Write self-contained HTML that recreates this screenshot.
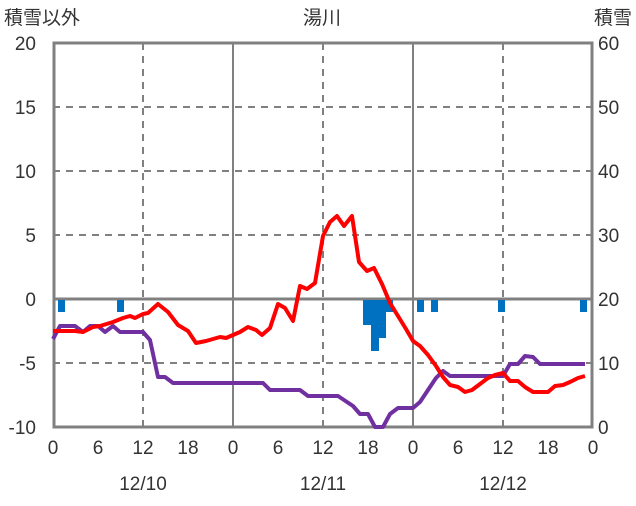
<!DOCTYPE html><html><head><style>body{margin:0;background:#fff}svg text{font-family:"Liberation Sans","Noto Sans CJK JP",sans-serif;font-size:19px;fill:#333}</style></head><body>
<svg width="636" height="501" xmlns="http://www.w3.org/2000/svg">
<g stroke="#808080" stroke-width="2" stroke-dasharray="7,6">
<line x1="53" y1="107" x2="593" y2="107"/><line x1="53" y1="171" x2="593" y2="171"/><line x1="53" y1="235" x2="593" y2="235"/><line x1="53" y1="363" x2="593" y2="363"/>
<line x1="143" y1="43" x2="143" y2="427"/><line x1="323" y1="43" x2="323" y2="427"/><line x1="503" y1="43" x2="503" y2="427"/>
</g>
<g stroke="#808080" stroke-width="2"><line x1="233" y1="43" x2="233" y2="427"/><line x1="413" y1="43" x2="413" y2="427"/></g>
<line x1="53" y1="299" x2="593" y2="299" stroke="#808080" stroke-width="3"/>
<rect x="54" y="43" width="538" height="384" fill="none" stroke="#808080" stroke-width="3"/>
<g fill="#0070c0">
<rect x="58" y="300" width="7" height="12"/><rect x="117" y="300" width="7" height="12"/>
<rect x="363" y="300" width="8" height="25"/><rect x="371" y="300" width="8" height="51"/><rect x="379" y="300" width="7" height="38"/><rect x="386" y="300" width="7" height="12"/>
<rect x="417" y="300" width="7" height="12"/><rect x="431" y="300" width="7" height="12"/><rect x="498" y="300" width="7" height="12"/><rect x="580" y="300" width="7" height="12"/>
</g>
<polyline fill="none" stroke="#7030a0" stroke-width="4" stroke-linejoin="round" points="53,339 60,326 75,326 83,332 90,326 98,326 105,332 113,326 120,332 143,332 150,340 158,377 165,377 173,383 263,383 270,390 300,390 308,396 338,396 353,406 360,414 368,414 375,427 383,427 390,414 398,408 413,408 420,402 428,390 436,378 443,371 450,376 503,376 510,364 518,364 525,356 533,357 540,364 585,364"/>
<polyline fill="none" stroke="#ff0000" stroke-width="4" stroke-linejoin="round" points="53,331 75,331 83,332 93,327 100,326 113,322 123,318 130,316 135,318 143,314 148,313 158,304 168,312 178,325 188,331 196,343 206,341 213,339 220,337 226,338 233,335 240,332 248,327 256,330 262,335 270,328 278,304 285,308 293,321 300,286 307,289 315,283 323,236 330,222 337,216 344,226 352,216 359,262 367,271 374,268 382,284 390,303 398,316 406,329 413,341 420,346 428,355 436,366 443,377 450,385 458,387 465,392 472,390 480,384 488,378 495,375 503,373 510,381 518,381 525,387 533,392 548,392 555,386 563,385 570,382 578,378 585,376"/>
<g text-anchor="end"><text x="36" y="50">20</text><text x="36" y="114">15</text><text x="36" y="178">10</text><text x="36" y="242">5</text><text x="36" y="306">0</text><text x="36" y="370">-5</text><text x="36" y="434">-10</text></g>
<g text-anchor="start"><text x="598" y="50">60</text><text x="598" y="114">50</text><text x="598" y="178">40</text><text x="598" y="242">30</text><text x="598" y="306">20</text><text x="598" y="370">10</text><text x="598" y="434">0</text></g>
<g text-anchor="middle"><text x="53" y="454">0</text><text x="98" y="454">6</text><text x="143" y="454">12</text><text x="188" y="454">18</text><text x="233" y="454">0</text><text x="278" y="454">6</text><text x="323" y="454">12</text><text x="368" y="454">18</text><text x="413" y="454">0</text><text x="458" y="454">6</text><text x="503" y="454">12</text><text x="548" y="454">18</text><text x="593" y="454">0</text>
<text x="143" y="490">12/10</text><text x="323" y="490">12/11</text><text x="503" y="490">12/12</text>
<text x="322" y="24">湯川</text></g>
<text x="4" y="24">積雪以外</text><text x="632" y="24" text-anchor="end">積雪</text>
</svg></body></html>
